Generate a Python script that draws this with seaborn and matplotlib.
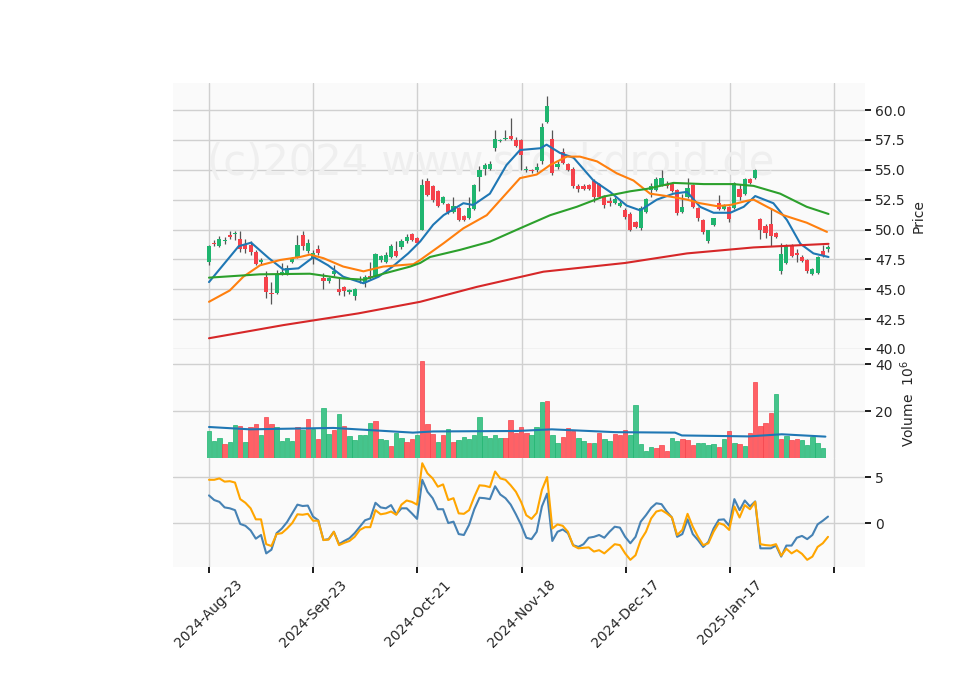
import numpy as np
import pandas as pd
import matplotlib
matplotlib.use("Agg")
import matplotlib.pyplot as plt
import seaborn as sns

tick_labels = ["2024-Aug-23", "2024-Sep-23", "2024-Oct-21", "2024-Nov-18", "2024-Dec-17", "2025-Jan-17", ""]

opens = [47.25,48.9,48.6,49.0,49.5,49.6,49.2,48.75,48.7,48.1,47.3,46.05,44.7,44.65,46.3,46.4,47.3,47.7,49.5,48.2,
         47.6,48.4,45.9,45.7,46.25,45.0,45.15,44.75,44.4,45.75,45.5,46.1,46.0,47.45,47.3,47.7,48.2,48.5,49.0,49.6,
         49.3,50.0,54.1,53.6,53.2,52.2,52.1,51.5,51.8,51.1,51.0,51.7,54.4,55.05,55.1,56.85,57.4,57.55,57.8,57.5,
         57.5,55.0,55.0,55.0,55.7,59.0,57.6,55.2,56.5,55.5,55.1,53.65,53.65,53.7,54.1,53.8,52.8,52.4,52.2,52.0,
         51.6,51.3,50.6,50.1,51.5,53.3,53.3,53.7,53.7,53.8,53.3,51.5,52.75,53.7,51.8,50.8,49.0,50.4,52.2,51.7,
         51.9,51.8,53.4,53.0,54.2,54.3,50.9,50.3,50.5,49.7,46.5,47.2,48.7,48.05,47.7,47.45,46.3,46.4,48.2,48.4]
closes = [48.6,48.75,49.2,49.0,49.4,49.7,48.4,48.4,48.1,47.1,47.45,44.8,44.6,46.2,46.45,46.8,47.5,48.7,48.6,48.9,
          48.05,48.05,45.7,45.9,46.5,44.8,44.85,44.9,45.0,45.8,46.0,45.9,47.95,47.75,47.9,48.65,47.8,49.05,49.4,49.1,
          48.9,53.7,52.9,52.5,52.0,52.7,51.5,51.95,50.8,50.8,51.8,53.7,55.0,55.4,55.5,57.6,57.45,57.6,57.6,57.0,
          56.2,55.1,54.9,55.2,58.6,60.3,54.75,55.5,55.6,55.0,53.6,53.4,53.4,53.4,52.7,52.7,52.05,52.25,52.55,52.25,
          51.05,49.98,50.2,51.8,52.55,53.6,54.2,54.3,53.6,53.25,51.35,51.85,53.5,51.9,51.0,49.8,49.95,50.95,51.7,52.0,
          50.9,53.85,52.75,54.2,53.85,55.0,49.95,49.7,49.45,49.4,47.95,48.7,47.8,47.9,47.4,46.55,46.7,47.7,47.9,48.4]
highs = [48.7,49.1,49.45,49.4,49.9,49.9,49.9,49.2,49.0,48.3,47.6,46.5,45.6,46.6,47.2,47.0,47.7,49.5,49.85,49.2,
         48.3,48.7,46.4,46.0,47.0,45.9,45.3,45.0,45.1,46.1,46.2,47.3,48.0,47.9,48.1,48.8,49.0,49.2,49.6,49.7,
         49.4,54.2,54.3,53.7,53.3,52.8,52.2,52.7,51.9,51.2,52.7,53.8,55.3,55.6,55.7,58.3,57.6,58.3,59.3,57.7,
         57.6,55.3,55.1,55.6,58.9,61.2,58.3,55.7,56.8,55.6,55.2,53.8,53.8,53.8,54.2,53.9,52.9,52.7,52.7,52.4,
         51.8,51.5,50.7,52.0,52.6,53.9,54.4,55.0,54.1,53.9,53.4,53.0,54.3,53.8,51.9,50.9,50.0,51.0,52.9,52.1,
         52.0,54.0,53.8,54.3,54.3,55.1,51.0,50.5,51.8,49.8,48.9,48.8,48.8,48.4,47.9,47.5,46.8,47.8,48.7,48.7]
lows = [47.0,48.6,48.5,48.8,49.2,49.1,48.1,48.0,47.9,47.0,47.1,44.25,43.8,44.6,46.2,46.2,47.2,47.6,48.3,48.0,
        47.1,47.9,45.0,45.5,46.1,44.5,44.4,44.6,44.1,45.5,45.2,45.8,45.9,47.3,47.2,47.6,47.7,48.4,48.9,49.0,
        48.8,50.0,52.8,52.3,51.9,52.1,51.3,51.4,50.7,50.7,50.9,51.6,53.2,54.6,55.0,56.6,57.3,57.5,57.5,56.9,
        55.0,54.8,54.7,54.8,55.5,58.9,54.6,55.1,55.5,54.9,53.5,53.1,53.3,53.3,52.3,52.6,51.8,52.0,52.1,51.9,
        50.9,49.9,50.1,50.0,51.4,52.7,53.2,53.6,53.5,53.1,51.2,51.4,52.6,51.8,50.7,49.6,48.9,50.3,51.6,51.6,
        50.6,51.7,52.5,52.9,53.8,54.2,49.2,49.3,48.6,49.3,46.3,47.1,47.7,47.3,47.3,46.4,46.2,46.3,47.7,48.1]

ma1_idx = [0,5.7,8.1,11.5,14.3,17.2,20.1,22.9,25.8,29.7,32.6,35.3,38.3,40.6,43.1,45.1,48.9,50.8,54.0,57.2,59.8,63.7,64.9,
           67.5,70.1,73.9,77.1,80.3,82.9,86.1,89.3,91.9,94.4,97.0,100.2,102.8,105.0,108.5,111.1,113.7,116.2,119.1]
ma1_val = [45.6,48.6,48.9,47.6,46.65,46.75,47.7,47.0,46.05,45.5,46.05,46.9,48.0,49.0,50.4,51.2,52.2,52.05,53.0,55.4,56.65,56.8,57.1,
           56.4,56.0,54.1,53.15,52.0,51.6,52.5,53.0,53.15,51.9,51.4,51.4,51.9,52.8,52.2,50.8,48.8,48.0,47.7]
ma2_idx = [0,4.0,6.6,9.8,13.7,17.5,19.4,22.0,25.8,29.7,33.5,39.3,40.6,45.1,48.9,53.4,56.6,59.8,63.0,65.6,68.8,71.3,74.6,78.4,
           81.6,84.8,88.7,91.9,94.4,97.6,100.2,103.4,104.7,107.3,110.4,114.9,118.8]
ma2_val = [43.95,44.9,46.05,47.0,47.45,47.7,47.9,47.6,46.9,46.5,46.9,47.1,47.45,48.85,50.1,51.2,52.75,54.3,54.6,55.4,56.1,56.1,55.7,54.7,
           54.1,53.0,52.75,52.5,52.2,51.96,52.05,52.4,52.5,51.9,51.2,50.57,49.8]
ma3_idx = [0,9.8,19.4,25.8,29.7,33.5,38.7,40.6,42.5,48.3,54.0,59.8,65.6,70.7,75.8,81.0,84.2,89.3,95.1,100.8,104.7,109.8,114.9,119.1]
ma3_val = [45.97,46.25,46.3,45.9,45.8,46.3,46.9,47.2,47.7,48.3,48.98,50.1,51.2,51.9,52.75,53.2,53.4,53.9,53.8,53.8,53.65,53.0,51.9,51.3]
ma4_idx = [0,14.3,28.7,40.6,51.5,64.3,80.0,91.9,104.7,119.1]
ma4_val = [40.9,42.0,42.98,43.95,45.2,46.47,47.2,48.0,48.5,48.8]

volume = [11.3,7.1,8.4,5.8,6.7,13.9,13.5,6.7,13.0,14.3,9.6,17.3,14.3,13.0,7.1,8.4,7.1,13.0,11.8,16.5,
          12.2,7.9,21.1,10.1,11.8,18.6,13.5,9.2,7.5,9.6,9.6,14.8,15.6,7.9,7.5,5.0,10.5,8.4,6.7,7.9,
          9.6,41.1,14.3,10.1,6.7,9.6,12.2,6.7,7.5,8.8,7.9,9.6,17.3,9.2,8.4,9.6,8.4,8.4,16.0,10.8,
          13.0,10.5,9.6,13.0,23.7,24.1,9.6,6.2,8.8,12.6,11.3,8.4,7.1,6.2,6.2,10.5,7.9,7.1,10.1,9.6,
          11.8,9.6,22.4,5.8,2.8,4.5,4.1,5.4,2.8,8.4,7.1,7.9,7.5,5.4,6.2,6.2,5.4,5.8,4.5,7.9,
          11.3,6.2,5.8,5.0,10.5,32.2,13.5,14.8,19.0,27.1,7.9,9.2,7.5,7.9,7.5,5.4,8.8,6.2,4.1]
vol_dir = list("gggrggrgrrgrrggggrgrgrggrgrgggggrggrggrrgrrrgrgrgggggggggrrr"
               "rrgggrggrrrggrgrggrrrgggggrrrggrrrggggrgrgrgrrrrrgrgrrgggg")
volma_idx = [0,7.9,23.9,39.2,43.1,59.2,65.9,78.1,89.6,90.9,103.7,110.1,118.5]
volma_val = [13.2,12.2,12.8,10.8,11.3,11.5,12.2,11.0,10.8,9.6,9.2,10.1,9.1]

ind_blue = [3.0,2.5,2.3,1.7,1.6,1.4,-0.1,-0.3,-0.8,-1.7,-1.3,-3.3,-2.9,-1.1,-0.6,0.1,1.05,2.0,1.85,1.9,
            0.7,0.3,-1.85,-1.75,-0.95,-2.3,-1.95,-1.65,-1.1,-0.4,0.3,0.5,2.2,1.7,1.6,1.95,0.95,1.6,1.6,1.05,
            0.45,4.7,3.4,2.7,1.5,1.5,0.0,0.15,-1.2,-1.3,-0.2,1.5,2.75,2.7,2.6,4.0,3.1,2.7,2.0,
            0.95,-0.2,-1.6,-1.75,-0.95,1.8,3.2,-1.95,-0.95,-0.7,-1.1,-2.4,-2.6,-2.3,-1.6,-1.5,-1.3,-1.6,-0.95,-0.4,
            -0.5,-1.5,-2.2,-1.5,0.15,0.85,1.65,2.15,2.05,1.25,0.6,-1.5,-1.2,0.4,-1.2,-1.85,-2.6,-2.05,-0.6,0.35,
            0.4,-0.3,2.6,1.4,2.45,1.8,2.35,-2.75,-2.75,-2.75,-2.45,-3.65,-2.45,-2.45,-1.6,-1.4,-1.75,-1.3,-0.15,0.25,0.7]
ind_orange = [4.7,4.7,4.85,4.5,4.55,4.4,2.6,2.2,1.6,0.4,0.4,-2.3,-2.5,-1.2,-1.1,-0.6,0.0,0.95,0.9,1.0,
              0.25,0.25,-1.85,-1.8,-0.95,-2.4,-2.15,-1.95,-1.5,-0.75,-0.45,-0.45,1.4,0.95,1.05,1.25,0.9,2.0,2.45,2.3,
              2.0,6.5,5.4,4.85,3.95,4.2,2.5,2.7,1.05,1.0,1.4,2.85,4.1,4.05,3.9,5.6,4.85,4.7,4.1,
              3.4,2.3,0.85,0.45,1.1,3.6,5.0,-0.6,-0.15,-0.3,-0.95,-2.45,-2.75,-2.7,-2.65,-3.1,-2.95,-3.3,-2.8,-2.3,
              -2.4,-3.3,-4.0,-3.5,-1.85,-0.95,0.5,1.25,1.4,1.05,0.6,-1.3,-0.75,1.0,-0.4,-1.5,-2.4,-2.2,-0.95,0.0,
              -0.2,-0.75,1.8,0.6,1.95,1.5,2.3,-2.3,-2.4,-2.45,-2.3,-3.55,-2.8,-3.3,-2.95,-3.35,-4.0,-3.65,-2.6,-2.2,-1.5]

GREEN, RED = "#1fb56f", "#f5424b"
VGREEN, VRED = "#45c48c", "#ff6166"

sns.set_theme(style="whitegrid", rc={"axes.facecolor": "#fafafa", "grid.color": "#d0d0d0",
                                     "axes.edgecolor": "#e6e6e6"})
fig = plt.figure(figsize=(9.6, 6.9), dpi=100)
L, W = 173/960, 692/960
ax1 = fig.add_axes([L, 1-349/690, W, 266/690])
ax2 = fig.add_axes([L, 1-458/690, W, 109/690], sharex=ax1)
ax3 = fig.add_axes([L, 1-567/690, W, 109/690], sharex=ax1)

n = len(closes)
idx = np.arange(n)
df = pd.DataFrame({"i": idx, "o": opens, "c": closes, "h": highs, "l": lows})
up = df.c >= df.o
ax1.vlines(df.i, df.l, df.h, color="#555555", lw=0.9, zorder=2)
ax1.bar(df.i, (df.c - df.o).abs().clip(lower=0.1), bottom=np.minimum(df.o, df.c), width=0.8,
        color=np.where(up, GREEN, RED), lw=0, zorder=3)
for xs, ys, col in [(ma1_idx, ma1_val, "#1f77b4"), (ma2_idx, ma2_val, "#ff7f0e"),
                    (ma3_idx, ma3_val, "#2ca02c"), (ma4_idx, ma4_val, "#d62728")]:
    sns.lineplot(x=xs, y=ys, ax=ax1, color=col, lw=1.5, zorder=4)
ax1.set_ylim(40.0, 62.26)
ax1.set_yticks(np.arange(40, 60.1, 2.5))
ax1.text((491-173)/692, 0.70, "(c)2024 www.stockdroid.de", transform=ax1.transAxes, ha="center", va="center",
         fontsize=30, color="#efefef", zorder=1)

vi = np.arange(len(volume))
ax2.bar(vi, volume, width=0.85, color=[VGREEN if d == "g" else VRED for d in vol_dir],
        edgecolor=[GREEN if d == "g" else RED for d in vol_dir], lw=0.5, zorder=3)
sns.lineplot(x=volma_idx, y=volma_val, ax=ax2, color="#1f77b4", lw=1.5, zorder=4)
ax2.set_ylim(0, 46.4)
ax2.set_yticks([20, 40])

ii = np.arange(len(ind_blue))
sns.lineplot(x=ii, y=ind_blue, ax=ax3, color="#4682b4", lw=1.5)
sns.lineplot(x=np.arange(len(ind_orange)), y=ind_orange, ax=ax3, color="#ffa500", lw=1.5)
ax3.set_ylim(-4.78, 7.07)
ax3.set_yticks([0, 5])

ppx = 619 / (n - 1)
ax1.set_xlim(-(209-173)/ppx, (n-1) + (865-828)/ppx)
step = 104.2 / ppx
ax3.set_xticks(np.arange(len(tick_labels)) * step)
ax3.set_xticklabels(tick_labels, rotation=45, ha="center", fontsize=10)
ax3.tick_params(axis="x", bottom=True, length=4, color="black")
for a in (ax1, ax2):
    a.tick_params(axis="x", labelbottom=False, bottom=False)
for a in (ax1, ax2, ax3):
    a.yaxis.tick_right()
    a.yaxis.set_label_position("right")
    a.tick_params(axis="y", right=True, length=4, labelsize=10, color="black")
    for s in a.spines.values():
        s.set_visible(False)
ax1.set_ylabel("Price", fontsize=10)
ax2.set_ylabel("Volume  $10^{6}$", fontsize=10)
fig.savefig("out.png", dpi=100)
